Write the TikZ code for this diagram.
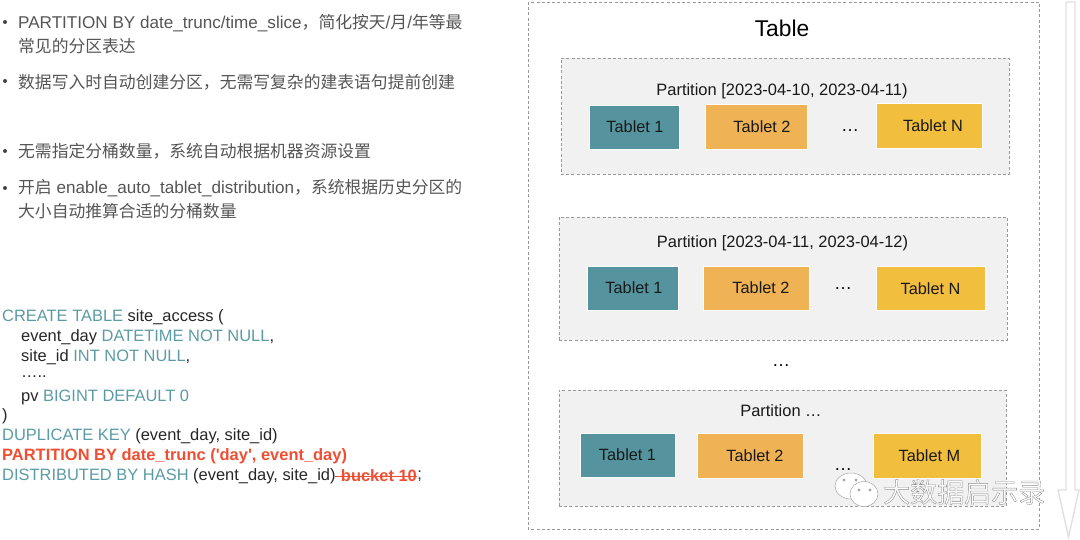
\documentclass[tikz,border=0pt]{standalone}
\usepackage{fontspec}
\setmainfont{Liberation Sans}
\newfontfamily\cjk{Noto Sans CJK SC}
\newfontfamily\plainf{Liberation Sans}
\definecolor{tealc}{HTML}{5B9BA5}
\definecolor{redc}{HTML}{F04E32}
\definecolor{graytxt}{HTML}{555555}
\definecolor{t1}{HTML}{55949E}
\definecolor{t2}{HTML}{EFB355}
\definecolor{t3}{HTML}{F2BE3E}
\definecolor{dashc}{HTML}{999999}
\definecolor{pfill}{HTML}{F1F1F1}
\newcommand{\kw}[1]{\textcolor{tealc}{#1}}
\newcommand{\zh}[1]{{\cjk\fontsize{16.8}{20}\selectfont #1}}
\tikzset{
  note/.style={anchor=west,inner sep=0pt,text=graytxt,font=\fontsize{17.1}{18}\selectfont},
  dotb/.style={circle,fill=graytxt!80!black,inner sep=0pt,minimum size=4pt},
  code/.style={anchor=west,inner sep=0pt,text=black!85,font=\fontsize{16.45}{18}\selectfont},
  redb/.style={code,text=redc,font=\plainf\fontsize{16.45}{18}\selectfont\bfseries},
  outer/.style={draw=dashc,line width=0.9pt,dash pattern=on 3pt off 2.2pt},
  part/.style={draw=dashc,fill=pfill,line width=0.9pt,dash pattern=on 3pt off 2.2pt},
  tablet/.style={draw=white,line width=0.4pt,inner sep=0pt,text=black!90,font=\fontsize{16.3}{18}\selectfont},
  ptitle/.style={inner sep=0pt,text=black!90,font=\fontsize{16.45}{18}\selectfont},
  tdots/.style={inner sep=0pt,text=black,font=\fontsize{18}{20}\selectfont},
}
\begin{document}
\begin{tikzpicture}[x=1pt,y=-1pt]
\useasboundingbox (0,0) rectangle (1080,540);
% left notes
\foreach \n/\y in {a/22,c/81,d/151,e/188}{\node[dotb] (bul\n) at (5,\y) {};}
\node[note] (n1) at (18,23.5) {PARTITION BY date\_trunc/time\_slice\zh{，简化按天}/\zh{月}/\zh{年等最}};
\node[note] (n2) at (18,46) {\zh{常见的分区表达}};
\node[note] (n3) at (18,82) {\zh{数据写入时自动创建分区，无需写复杂的建表语句提前创建}};
\node[note] (n4) at (18,151) {\zh{无需指定分桶数量，系统自动根据机器资源设置}};
\node[note] (n5) at (18,188.5) {\zh{开启} enable\_auto\_tablet\_distribution\zh{，系统根据历史分区的}};
\node[note] (n6) at (18,211) {\zh{大小自动推算合适的分桶数量}};
% code
\node[code] (c1) at (2,317) {\kw{CREATE TABLE} site\_access (};
\node[code] (c2) at (21,337) {event\_day \kw{DATETIME NOT NULL},};
\node[code] (c3) at (21,357) {site\_id \kw{INT NOT NULL},};
\node[code] (c4) at (21,377) {…..};
\node[code] (c5) at (21,397) {pv \kw{BIGINT DEFAULT 0}};
\node[code] (c6) at (2,416) {)};
\node[code] (c7) at (2,436) {\kw{DUPLICATE KEY} (event\_day, site\_id)};
\node[redb] (c8) at (2,456) {PARTITION BY date\_trunc ('day', event\_day)};
\node[code] (c9) at (2,476) {\kw{DISTRIBUTED BY HASH} (event\_day, site\_id)};
\node[redb,anchor=west] (c9b) at ([xshift=5pt]c9.east) {bucket 10};
\node[code,anchor=west] (c9c) at (c9b.east) {;};
\draw[redc,line width=1pt] ([xshift=-6pt]c9b.west) -- (c9b.east);
% table
\draw[outer] (528,2) rectangle (1039,529);
\node[inner sep=0pt,text=black,font=\fontsize{22.8}{24}\selectfont] (tbl) at (782,28) {Table};
% partition 1
\node[part,minimum width=448pt,minimum height=116pt,inner sep=0pt] (p1) at (785,116) {};
\node[ptitle] (p1l) at (782,91) {Partition [2023-04-10, 2023-04-11)};
\node[tablet,fill=t1,minimum width=90pt,minimum height=44pt] (p1a) at (634,127) {\raisebox{-3pt}{\hspace{2pt}Tablet 1}};
\node[tablet,fill=t2,minimum width=102pt,minimum height=45pt] (p1b) at (756,127) {\raisebox{-3pt}{\hspace{12pt}Tablet 2}};
\node[tdots] (p1d) at (850,131) {…};
\node[tablet,fill=t3,minimum width=106pt,minimum height=45pt] (p1c) at (929,126) {\raisebox{-2pt}{\hspace{8pt}Tablet N}};
% partition 2
\node[part,minimum width=448pt,minimum height=123pt,inner sep=0pt] (p2) at (783,278.5) {};
\node[ptitle] (p2l) at (782.5,243) {Partition [2023-04-11, 2023-04-12)};
\node[tablet,fill=t1,minimum width=91pt,minimum height=44pt] (p2a) at (633,288) {\raisebox{-2pt}{\hspace{2pt}Tablet 1}};
\node[tablet,fill=t2,minimum width=106pt,minimum height=44pt] (p2b) at (756,288) {\raisebox{-2pt}{\hspace{10pt}Tablet 2}};
\node[tdots] (p2d) at (843,289) {…};
\node[tablet,fill=t3,minimum width=109pt,minimum height=44pt] (p2c) at (930.5,288.5) {Tablet N};
\node[tdots] (md) at (781,366) {…};
% partition 3
\node[part,minimum width=447pt,minimum height=116pt,inner sep=0pt] (p3) at (782.5,448) {};
\node[ptitle] (p3l) at (781,411) {Partition …};
\node[tablet,fill=t1,minimum width=95pt,minimum height=44pt] (p3a) at (627.5,455) {\raisebox{-2pt}{Tablet 1}};
\node[tablet,fill=t2,minimum width=106pt,minimum height=45pt] (p3b) at (750,456) {\hspace{10pt}Tablet 2};
\node[tdots] (p3d) at (843,470) {…};
\node[tablet,fill=t3,minimum width=108pt,minimum height=45pt] (p3c) at (927,456) {\hspace{5pt}Tablet M};
% arrow
\draw[draw=black!12,fill=white,line width=1.4pt,line join=miter] (1066,2) -- (1075,2) -- (1075,490) -- (1079,490) -- (1068.5,537) -- (1058,490) -- (1066,490) -- cycle;
% watermark
\draw[draw=black!35,fill=white,line width=0.5pt] (851,486) ellipse (16pt and 13pt);
\draw[draw=black!35,fill=white,line width=0.5pt] (864,494) ellipse (14pt and 12.5pt);
\foreach \x/\y in {844/480,856/480,859/490,870/490}{\fill[black!35] (\x,\y) circle (1.6pt);}
\node[inner sep=0pt,anchor=west,font=\cjk\fontsize{27}{29}\selectfont] (wm) at (883,492) {\special{pdf:code q 2 Tr 0.35 w 0.55 G 1 g}大数据启示录\special{pdf:code Q}};
\end{tikzpicture}
\end{document}
